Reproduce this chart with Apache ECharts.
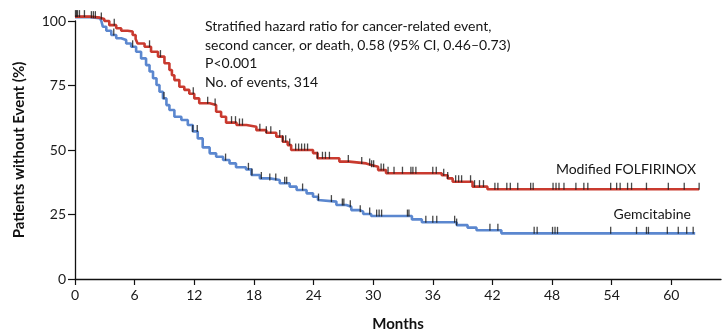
<!DOCTYPE html>
<html><head><meta charset="utf-8">
<script src="https://cdn.jsdelivr.net/npm/echarts@6/dist/echarts.min.js"></script>
<style>html,body{margin:0;padding:0;background:#fff}#c{width:722px;height:334px}</style>
</head><body><div id="c"></div>
<script>
// Step curves: [month, % without event] — value holds until next point
var folfirinox = [[0,101.7],[1.5,101.3],[2.5,100.8],[2.95,100.0],[3.45,98.4],[4.15,97.2],[4.65,96.2],[5.3,95.9],[5.8,94.6],[6.1,93.0],[6.3,91.3],[7.0,90.0],[7.65,88.1],[8.35,86.2],[9.0,83.6],[9.5,81.0],[9.75,79.0],[10.0,77.1],[10.5,74.5],[11.0,73.3],[11.5,71.8],[12.0,70.0],[12.5,68.1],[13.55,67.4],[14.2,64.8],[14.7,62.9],[15.2,60.6],[16.25,59.7],[17.25,59.0],[18.25,57.7],[19.25,56.7],[20.25,55.2],[20.9,53.2],[21.4,51.9],[21.75,50.0],[23.95,48.8],[24.4,46.8],[26.6,45.5],[27.6,44.8],[29.3,44.2],[29.8,43.5],[30.5,42.2],[31.3,41.0],[36.9,40.2],[37.5,39.0],[38.0,37.7],[40.0,35.8],[41.5,34.8],[62.8,34.8]];
var gemcitabine = [[0,101.5],[1.5,101.1],[2.5,100.6],[2.65,100.0],[2.8,97.8],[3.15,96.2],[3.65,94.6],[4.15,93.3],[4.65,92.6],[5.15,91.3],[5.65,90.0],[6.15,88.1],[6.65,85.5],[7.15,82.9],[7.5,80.4],[7.85,77.8],[8.2,75.2],[8.5,72.6],[8.85,70.0],[9.2,67.4],[9.5,65.5],[10.0,62.9],[10.7,61.6],[11.35,59.7],[11.85,57.2],[12.35,54.5],[12.85,51.0],[13.55,48.7],[14.2,47.4],[14.9,46.1],[15.55,44.8],[16.2,43.3],[17.2,42.5],[17.75,40.3],[18.6,39.0],[19.6,38.4],[20.6,37.1],[21.6,35.8],[22.3,34.5],[23.3,33.2],[23.95,31.9],[24.45,30.6],[24.6,30.0],[26.3,28.7],[27.3,28.0],[27.8,26.7],[28.65,26.1],[29.0,25.2],[29.8,24.4],[33.9,23.1],[34.9,22.0],[38.4,20.9],[39.5,19.9],[40.4,18.9],[42.9,17.7],[62.4,17.7]];
// Censoring times (months)
var folfirinoxCensor = [0.05,0.15,0.25,0.45,0.95,1.65,1.85,2.05,2.65,3.95,7.5,8.6,11.9,13.35,14.1,15.75,16.15,16.55,16.85,18.6,19.25,19.7,20.6,20.9,21.2,21.6,22.2,22.5,22.8,23.1,23.4,24.4,24.9,25.2,25.6,27.5,28.85,29.65,29.85,30.05,30.8,31.05,31.5,32.1,32.95,33.8,34.0,34.3,36.0,36.35,37.1,37.5,38.3,38.6,38.9,39.8,40.2,40.7,41.1,42.25,42.55,43.45,43.8,44.55,45.85,46.1,48.1,48.4,48.7,49.2,50.4,51.2,51.6,53.9,54.5,54.85,55.6,56.0,57.5,59.7,61.3,62.8];
var gemcitabineCensor = [3.9,5.8,8.95,11.85,12.3,15.15,17.45,17.8,18.75,19.6,20.2,21.1,21.3,22.9,24.5,25.8,26.9,27.05,27.7,28.7,29.65,30.35,30.6,30.85,33.45,33.6,35.3,36.0,36.4,38.2,38.4,41.75,42.55,46.2,46.5,48.05,48.3,48.55,53.9,56.5,57.5,57.7,59.6,60.7,61.55,62.2];
var xTicks = [0,6,12,18,24,30,36,42,48,54,60];
var yTicks = [0,25,50,75,100];
var seriesNames = ['Modified FOLFIRINOX','Gemcitabine'];
var annotation = ['Stratified hazard ratio for cancer-related event,','second cancer, or death, 0.58 (95% CI, 0.46\u20130.73)','P<0.001','No. of events, 314'];

function stepAt(curve, t){ var v = curve[0][1]; for (var i=0;i<curve.length;i++){ if (curve[i][0] <= t) v = curve[i][1]; } return v; }
function marks(curve, times){ return times.map(function(t){ return [t, stepAt(curve, t)]; }); }

var FONT = 'Lato';
var RED = '#c93a2f', BLUE = '#5b87cf';
var chart = echarts.init(document.getElementById('c'), null, {renderer:'canvas'});
chart.setOption({
  animation:false,
  grid:{left:75, right:1, top:21, bottom:55, containLabel:false},
  xAxis:{type:'value', min:0, max:65, interval:6,
    axisLine:{lineStyle:{color:'#111', width:1.3}},
    axisTick:{length:6, lineStyle:{color:'#111', width:1.2}, customValues:xTicks},
    axisLabel:{color:'#1a1a1a', fontSize:14, fontFamily:FONT, margin:9, customValues:xTicks},
    splitLine:{show:false}},
  yAxis:{type:'value', min:0, max:100, interval:25,
    axisLine:{show:true, lineStyle:{color:'#111', width:1.3}},
    axisTick:{show:true, length:7, lineStyle:{color:'#111', width:1.2}, customValues:yTicks},
    axisLabel:{color:'#1a1a1a', fontSize:14, fontFamily:FONT, margin:9, customValues:yTicks},
    splitLine:{show:false}},
  series:[
    {name:seriesNames[1], type:'line', step:'end', data:gemcitabine, showSymbol:false, clip:false, z:2,
      lineStyle:{color:BLUE, width:2.6}},
    {name:seriesNames[0], type:'line', step:'end', data:folfirinox, showSymbol:false, clip:false, z:3,
      lineStyle:{color:RED, width:2.6}},
    {type:'scatter', data:marks(gemcitabine, gemcitabineCensor), symbol:'rect', symbolSize:[1.3,7], symbolOffset:[0,-3], clip:false, z:5,
      itemStyle:{color:'#1a1a1a'}, silent:true},
    {type:'scatter', data:marks(folfirinox, folfirinoxCensor), symbol:'rect', symbolSize:[1.3,7], symbolOffset:[0,-3], clip:false, z:5,
      itemStyle:{color:'#1a1a1a'}, silent:true}
  ],
  graphic:[
    {type:'text', left:205, top:17, style:{text:annotation.join('\n'), font:'14px '+FONT, fill:'#151515', lineHeight:18.7}},
    {type:'text', right:26, top:162, style:{text:seriesNames[0], font:'14px '+FONT, fill:'#151515'}},
    {type:'text', right:31, top:207, style:{text:seriesNames[1], font:'14px '+FONT, fill:'#151515'}},
    {type:'text', x:398, y:324, style:{text:'Months', font:'bold 15px '+FONT, fill:'#111', align:'center', verticalAlign:'middle'}},
    {type:'text', x:19, y:150, rotation:Math.PI/2, style:{text:'Patients without Event (%)', font:'bold 15px '+FONT, fill:'#111', align:'center', verticalAlign:'middle'}}
  ]
});
</script></body></html>
